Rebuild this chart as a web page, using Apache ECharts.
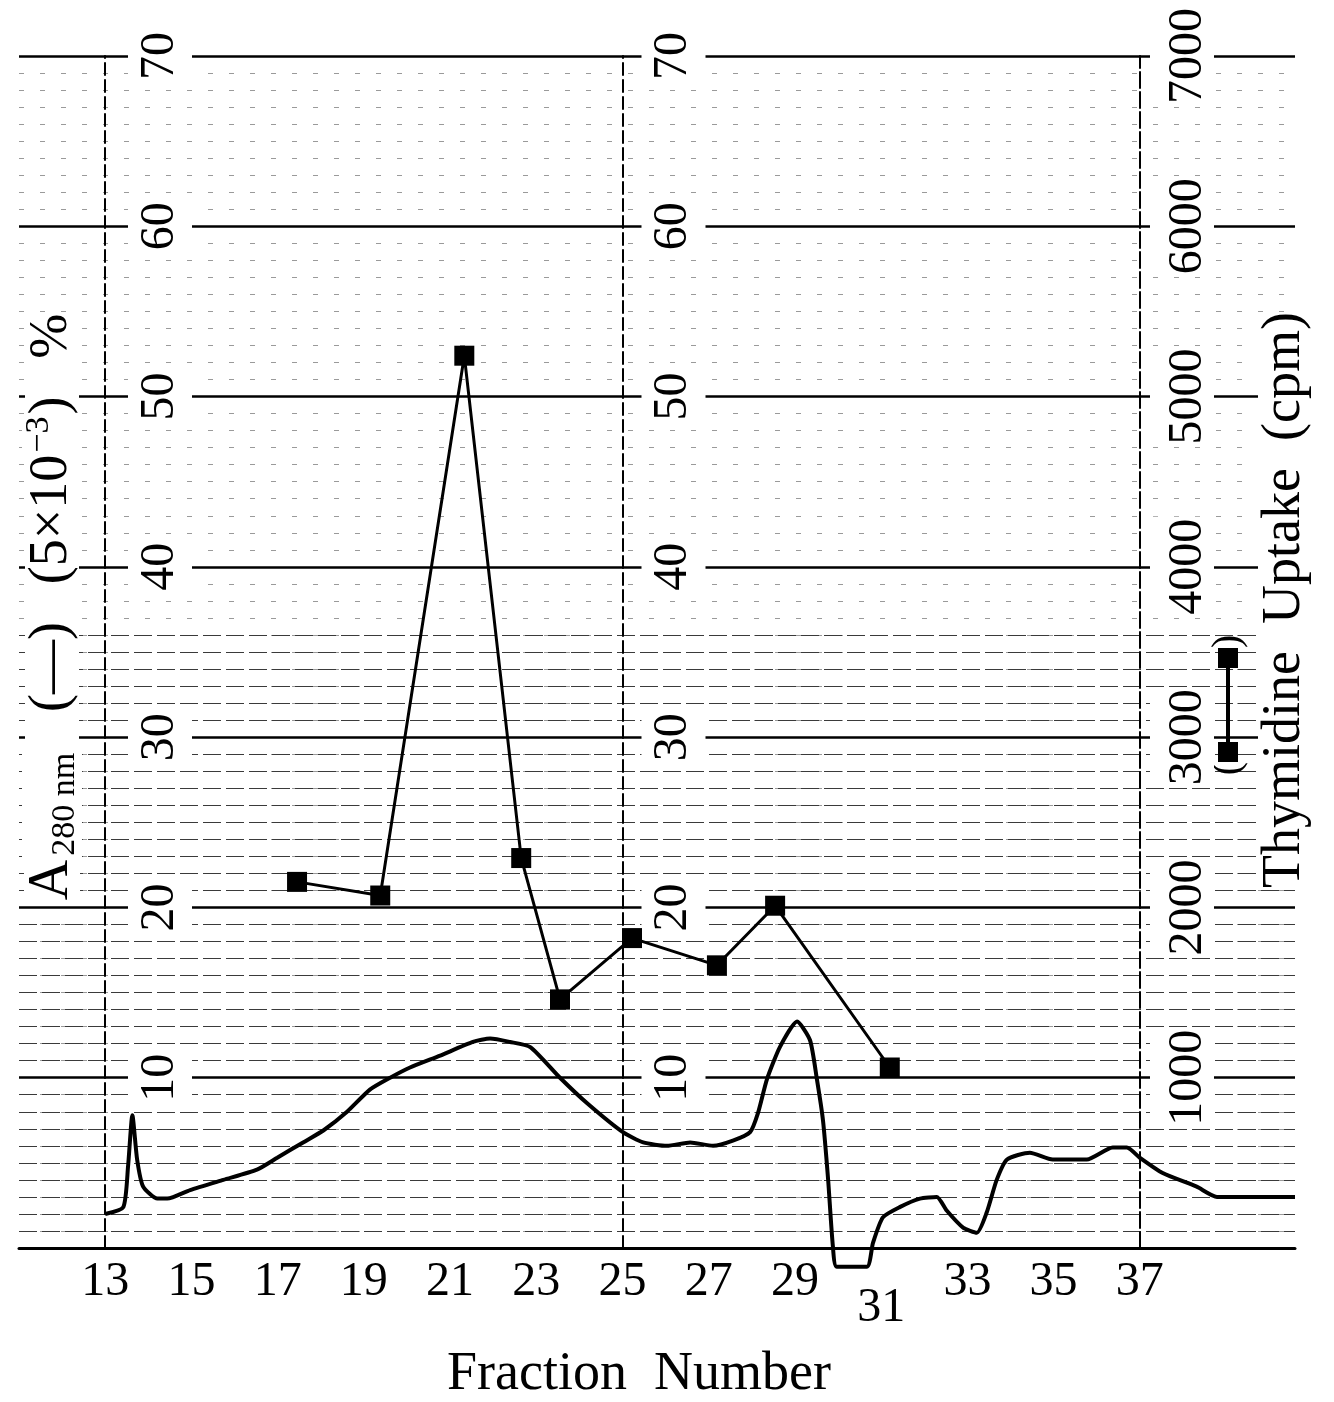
<!DOCTYPE html>
<html>
<head>
<meta charset="utf-8">
<script src="https://cdn.jsdelivr.net/npm/echarts@6/dist/echarts.min.js"></script>
<style>
  html, body { margin: 0; padding: 0; background: #fff; }
  #chart { width: 1334px; height: 1402px; }
</style>
</head>
<body>
<div id="chart"></div>
<script>
// fraction number axis labels (31 is printed lower in the original)
var xTickLabels = [13, 15, 17, 19, 21, 23, 25, 27, 29, 31, 33, 35, 37];
var lowLabel = 31;
// A280 (5x10^-3) % scale, and thymidine cpm scale
var leftTicks = [10, 20, 30, 40, 50, 60, 70];
var rightTicks = [1000, 2000, 3000, 4000, 5000, 6000, 7000];

// A280 trace (solid line)
var a280Fraction = [13.0, 13.42, 13.53, 13.63, 13.74, 13.88, 14.21, 14.44, 14.97, 15.74,
  16.52, 16.99, 17.59, 18.06, 18.61, 19.14, 19.61, 20.07, 20.77, 21.53,
  21.93, 22.39, 22.86, 23.55, 24.18, 25.01, 25.48, 26.03, 26.57, 27.10,
  27.56, 27.96, 28.14, 28.35, 28.65, 29.05, 29.35, 29.51, 29.65, 29.77,
  29.88, 29.97, 30.67, 30.81, 31.04, 31.43, 31.90, 32.29, 32.52, 32.90,
  33.22, 33.45, 33.68, 33.92, 34.45, 34.98, 35.77, 36.37, 36.70, 37.00,
  37.53, 38.32, 38.79, 40.6];
var a280Value = [2.0, 2.4, 4.8, 7.8, 5.2, 3.6, 2.9, 2.9, 3.4, 4.0,
  4.6, 5.3, 6.2, 6.9, 8.0, 9.3, 10.0, 10.6, 11.3, 12.1,
  12.3, 12.1, 11.8, 10.0, 8.5, 6.8, 6.2, 6.0, 6.2, 6.0,
  6.3, 6.8, 7.9, 9.9, 11.8, 13.3, 12.2, 9.9, 7.5, 4.0,
  0.1, -1.1, -1.1, 0.3, 1.8, 2.4, 2.9, 3.0, 2.2, 1.2,
  0.9, 2.1, 4.0, 5.2, 5.6, 5.2, 5.2, 5.9, 5.9, 5.3,
  4.4, 3.6, 3.0, 3.0];

// thymidine uptake (filled squares)
var thymFraction = [17.45, 19.38, 21.33, 22.65, 23.55, 25.22, 27.19, 28.54, 31.2];
var thymCpm = [2150, 2070, 5240, 2290, 1460, 1820, 1660, 2010, 1060];

// rows of the dense ruled background in the lower half of the sheet
var ruleRows = [];
for (var r = 0; r <= 70; r++) ruleRows.push(String(r));
var denseRuleTop = 36;

var serif = '"Liberation Serif", "DejaVu Serif", serif';

var a280Data = a280Fraction.map(function (f, i) { return [f, a280Value[i]]; });
var thymData = thymFraction.map(function (f, i) { return [f, thymCpm[i]]; });

var chart = echarts.init(document.getElementById('chart'));

var labelBase = {
    rotate: 90,
    fontFamily: serif,
    fontSize: 48,
    color: '#000',
    backgroundColor: '#fff',
    padding: [8, 2]
};

var gap = '\u2002\u2009';

var option = {
    animation: false,
    backgroundColor: '#fff',
    grid: {
        left: 19, right: 39, top: 56, bottom: 154,
        containLabel: false,
        outerBoundsMode: 'none'
    },
    xAxis: {
        type: 'value',
        min: 11,
        max: 40.6,
        interval: 2,
        axisLine: { show: true, lineStyle: { color: '#000', width: 3 } },
        axisTick: { show: false },
        splitLine: { show: false },
        axisLabel: {
            margin: 10,
            fontFamily: serif,
            fontSize: 48,
            color: '#000',
            showMaxLabel: false,
            formatter: function (v) {
                if (xTickLabels.indexOf(v) < 0) return '';
                return v === lowLabel ? '{low|' + v + '}' : String(v);
            },
            rich: {
                low: { fontFamily: serif, fontSize: 48, color: '#000', padding: [26, 0, 0, 0] }
            }
        },
        name: 'Fraction  Number',
        nameLocation: 'middle',
        nameGap: 100,
        nameMoveOverlap: false,
        nameTextStyle: { fontFamily: serif, fontSize: 54, color: '#000', padding: [0, 36, 0, 0] }
    },
    yAxis: [
        {
            type: 'value',
            min: 0, max: 70, interval: 10,
            position: 'left',
            offset: -86,
            axisLine: { show: true, lineStyle: { color: '#000', width: 2, type: [12, 5] } },
            axisTick: { show: false },
            axisLabel: Object.assign({}, labelBase, {
                inside: true,
                margin: 23,
                showMinLabel: false,
                formatter: function (v) { return leftTicks.indexOf(v) >= 0 ? String(v) : ''; }
            }),
            splitLine: { show: true, lineStyle: { color: '#000', width: 2.5 } },
            minorTick: { show: false, splitNumber: 10 },
            minorSplitLine: { show: true, lineStyle: { color: '#9a9a9a', width: 1, type: [5, 16] } },
            name: '{a|A}{sub|280 nm}{t|' + gap + '(\u2014)' + gap + '(5\u00d710}{sup|\u22123}{t|)' + gap + '%}',
            nameLocation: 'middle',
            nameRotate: 90,
            nameGap: 20,
            nameMoveOverlap: false,
            nameTextStyle: {
                padding: [0, 0, 0, 90],
                rich: {
                    a: { fontFamily: serif, fontSize: 56, color: '#000', lineHeight: 66, backgroundColor: '#fff' },
                    t: { fontFamily: serif, fontSize: 54, color: '#000', lineHeight: 66, backgroundColor: '#fff' },
                    sub: { fontFamily: serif, fontSize: 34, color: '#000', padding: [26, 3, 0, 4], backgroundColor: '#fff' },
                    sup: { fontFamily: serif, fontSize: 34, color: '#000', padding: [0, 2, 26, 2], backgroundColor: '#fff' }
                }
            }
        },
        {
            type: 'value',
            min: 0, max: 70, interval: 10,
            position: 'right',
            offset: -672.5,
            axisLine: { show: true, lineStyle: { color: '#000', width: 2, type: [12, 5] } },
            axisTick: { show: false },
            axisLabel: Object.assign({}, labelBase, {
                margin: 19,
                showMinLabel: false,
                formatter: function (v) { return leftTicks.indexOf(v) >= 0 ? String(v) : ''; }
            }),
            splitLine: { show: false }
        },
        {
            type: 'value',
            min: 0, max: 7000, interval: 1000,
            position: 'right',
            offset: -155,
            axisLine: { show: true, lineStyle: { color: '#000', width: 2, type: [16, 4] } },
            axisTick: { show: false },
            axisLabel: Object.assign({}, labelBase, {
                margin: 10,
                padding: [14, 2, 2, 2],
                showMinLabel: false,
                formatter: function (v) { return rightTicks.indexOf(v) >= 0 ? String(v) : ''; }
            }),
            splitLine: { show: false },
            name: '{p|(}{sq| }{ln| }{sq| }{p|)}{gap| }\n{t|Thymidine\u2002Uptake\u2002(cpm)}',
            nameLocation: 'middle',
            nameRotate: 90,
            nameGap: 60,
            nameMoveOverlap: false,
            nameTextStyle: {
                padding: [0, 0, 0, 104],
                rich: {
                    p: { fontFamily: serif, fontSize: 40, color: '#000', lineHeight: 56, align: 'center' },
                    sq: { width: 20, height: 20, backgroundColor: '#000', align: 'center' },
                    ln: { width: 74, height: 4, backgroundColor: '#000', align: 'center' },
                    gap: { width: 210, align: 'center' },
                    t: { fontFamily: serif, fontSize: 54, color: '#000', lineHeight: 58, align: 'center', backgroundColor: '#fff' }
                }
            }
        },
        {
            // ruled lines of the graph sheet, denser in the lower half
            type: 'category',
            data: ruleRows,
            boundaryGap: false,
            position: 'left',
            axisLine: { show: false },
            axisTick: { show: false },
            axisLabel: { show: false },
            splitLine: {
                show: true,
                interval: function (index) { return index > 0 && index <= denseRuleTop && index % 10 !== 0; },
                lineStyle: { color: '#3a3a3a', width: 1.2, type: [18, 5] }
            }
        }
    ],
    series: [
        {
            name: 'A280',
            type: 'line',
            xAxisIndex: 0,
            yAxisIndex: 0,
            data: a280Data,
            smooth: 0.2,
            symbol: 'none',
            clip: false,
            lineStyle: { color: '#000', width: 4 },
            z: 3
        },
        {
            name: 'Thymidine Uptake',
            type: 'line',
            xAxisIndex: 0,
            yAxisIndex: 2,
            data: thymData,
            symbol: 'rect',
            symbolSize: 20,
            itemStyle: { color: '#000' },
            lineStyle: { color: '#000', width: 3 },
            z: 4
        }
    ]
};

chart.setOption(option);
</script>
</body>
</html>
